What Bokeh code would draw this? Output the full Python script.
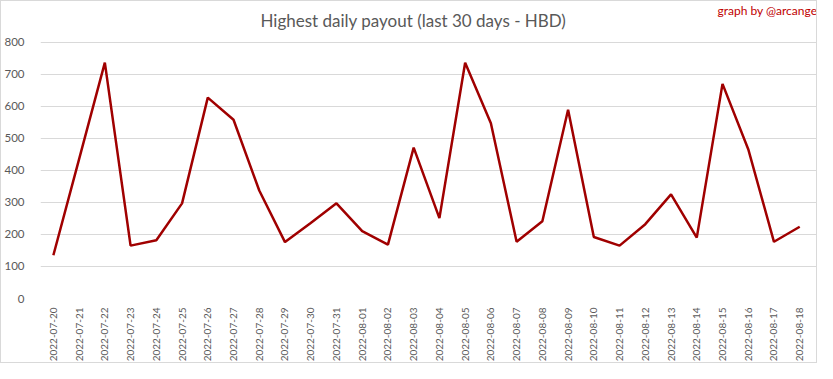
from bokeh.plotting import figure
from bokeh.models import Range1d, Label, FixedTicker
from bokeh.embed import file_html
from bokeh.resources import INLINE
from math import pi

dates = ["2022-07-20", "2022-07-21", "2022-07-22", "2022-07-23", "2022-07-24", "2022-07-25",
         "2022-07-26", "2022-07-27", "2022-07-28", "2022-07-29", "2022-07-30", "2022-07-31",
         "2022-08-01", "2022-08-02", "2022-08-03", "2022-08-04", "2022-08-05", "2022-08-06",
         "2022-08-07", "2022-08-08", "2022-08-09", "2022-08-10", "2022-08-11", "2022-08-12",
         "2022-08-13", "2022-08-14", "2022-08-15", "2022-08-16", "2022-08-17", "2022-08-18"]
payout = [135, 435, 736, 165, 182, 297, 627, 558, 337, 176, 236, 297, 210, 168, 471,
          251, 736, 547, 177, 241, 589, 192, 165, 232, 325, 190, 670, 466, 177, 224]
y_ticks = [0, 100, 200, 300, 400, 500, 600, 700, 800]

FONT = "Lato"
GREY = "#595959"

x_idx = list(range(len(dates)))

# frame reaches the top and right of the canvas so the header texts sit inside it;
# the range ends leave the margins of the original chart
p = figure(width=817, height=363,
           x_range=Range1d(-0.5, len(dates) - 0.5 + 0.23), y_range=Range1d(0, 927),
           output_backend="svg", toolbar_location=None,
           min_border_left=31, min_border_right=0, min_border_top=0, min_border_bottom=64)
p.styles = {"border": "1px solid #d9d9d9", "box-sizing": "border-box"}
p.outline_line_color = None
p.background_fill_color = "white"
p.border_fill_color = "white"

p.line(x=x_idx, y=payout, line_color="#A00000", line_width=2.5)

p.xgrid.grid_line_color = None
p.ygrid.grid_line_color = "#d9d9d9"
p.ygrid.grid_line_width = 1

p.yaxis.ticker = FixedTicker(ticks=y_ticks)
p.yaxis.axis_line_color = None
p.yaxis.major_tick_line_color = None
p.yaxis.minor_tick_line_color = None
p.yaxis.major_label_text_color = GREY
p.yaxis.major_label_text_font = FONT
p.yaxis.major_label_text_font_size = "11.5px"
p.yaxis.major_label_standoff = 10

p.xaxis.ticker = FixedTicker(ticks=x_idx)
p.xaxis.major_label_overrides = {i: d for i, d in zip(x_idx, dates)}
p.xaxis.axis_line_color = None
p.xaxis.major_tick_line_color = None
p.xaxis.minor_tick_line_color = None
p.xaxis.major_label_orientation = pi / 2
p.xaxis.major_label_text_color = GREY
p.xaxis.major_label_text_font = FONT
p.xaxis.major_label_text_font_size = "10px"
p.xaxis.major_label_standoff = 3

# screen units are measured from the frame's bottom-left corner
p.add_layout(Label(x=220, y=278, x_units="screen", y_units="screen",
                   text="Highest daily payout (last 30 days - HBD)",
                   text_align="left", text_baseline="alphabetic",
                   text_font=FONT, text_font_size="17px", text_color=GREY))
p.add_layout(Label(x=677, y=288, x_units="screen", y_units="screen",
                   text="graph by @arcange",
                   text_align="left", text_baseline="alphabetic",
                   text_font=FONT, text_font_size="12px", text_color="#C00000"))

open("out.html", "w").write(file_html(p, INLINE))
